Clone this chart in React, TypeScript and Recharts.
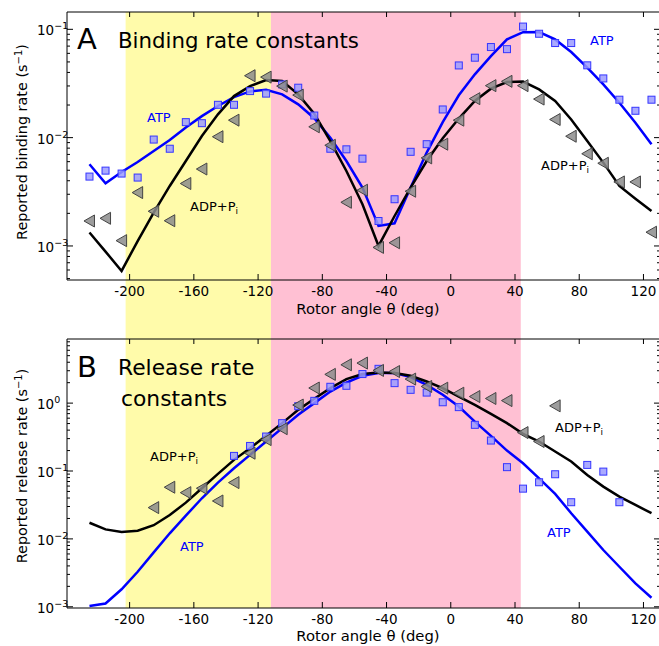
import React from "react";
import { ComposedChart, Line, Scatter, XAxis, YAxis, ReferenceArea } from "recharts";

// rotor angles (deg) where rates are reported / fitted
const angles = [
  -225, -215, -205, -195, -185, -175, -165, -155, -145, -135, -125, -115,
  -105, -95, -85, -75, -65, -55, -45, -35, -25, -15, -5, 5,
  15, 25, 35, 45, 55, 65, 75, 85, 95, 105, 115, 125,
];

// panel A: binding rate constants (s^-1)
const bindAtpPts = [
  0.00437, 0.00496, 0.00466, 0.00428, 0.0096, 0.0079, 0.0139, 0.0136, 0.0201, 0.0201, 0.0269, 0.0255,
  0.031, 0.0289, 0.016, 0.0079, 0.0078, 0.0064, 0.0017, 0.0027, 0.0074, 0.0087, 0.0182, 0.0464,
  0.0547, 0.0686, 0.0656, 0.106, 0.091, 0.0747, 0.0747, 0.0465, 0.0352, 0.0224, 0.0177, 0.0224,
];
const bindAdpPts = [
  0.0017, 0.0018, 0.00112, 0.00311, 0.00209, 0.00171, 0.00377, 0.00513, 0.0102, 0.0145, 0.0373, 0.0362,
  0.0299, 0.0247, 0.0126, 0.0085, 0.00253, 0.00327, 0.00097, 0.00107, 0.0032, 0.0065, 0.0087, 0.0145,
  0.0229, 0.0302, 0.0331, 0.0302, 0.0227, 0.0147, 0.0103, 0.0071, 0.0058, 0.0039, 0.0039, 0.00134,
];
const bindAtpFit = [
  0.00568, 0.00379, 0.00482, 0.00596, 0.00752, 0.0095, 0.0124, 0.0158, 0.0196, 0.0237, 0.0267, 0.0276,
  0.0251, 0.0203, 0.0151, 0.01, 0.00608, 0.00346, 0.00153, 0.00162, 0.00346, 0.00728, 0.0139, 0.0246,
  0.0384, 0.0566, 0.0807, 0.0942, 0.0944, 0.0807, 0.0617, 0.0443, 0.031, 0.021, 0.0137, 0.00868,
];
const bindAdpFit = [
  0.00133, 0.000887, 0.000588, 0.00111, 0.00203, 0.00358, 0.00608, 0.01035, 0.0164, 0.0242, 0.0299, 0.034,
  0.0333, 0.0251, 0.0166, 0.0093, 0.00492, 0.00243, 0.001, 0.00189, 0.00346, 0.00608, 0.00986, 0.015,
  0.0218, 0.0283, 0.0326, 0.0329, 0.0279, 0.0218, 0.0147, 0.0093, 0.00588, 0.00358, 0.00273, 0.0021,
];

// panel B: release rate constants (s^-1)
const relAtpPts = [
  null, null, null, null, null, null, null, null, null, 0.167, 0.234, 0.322,
  0.507, 0.9, 1.08, 1.74, 1.8, 2.68, 3.2, 1.97, 1.57, 1.43, 1.03, 0.873,
  0.479, 0.281, 0.114, 0.055, 0.0683, 0.0896, 0.0347, 0.123, 0.098, 0.0347, null, null,
];
const relAdpPts = [
  null, null, null, null, 0.0289, 0.0577, 0.048, 0.0557, 0.0362, 0.0675, 0.183, 0.29,
  0.42, 0.937, 1.67, 2.65, 3.67, 3.89, 3.03, 2.92, 2.26, 1.76, 1.66, 1.4,
  1.25, 1.17, 1.09, 0.368, 0.272, 0.912, null, null, null, null, null, null,
];
const relAtpFit = [
  0.00103, 0.00112, 0.00181, 0.00328, 0.00634, 0.0121, 0.022, 0.0397, 0.0675, 0.11, 0.173, 0.272,
  0.428, 0.672, 1.0, 1.48, 2.01, 2.53, 2.77, 2.77, 2.42, 1.86, 1.33, 0.891,
  0.535, 0.33, 0.2, 0.13, 0.078, 0.046, 0.0239, 0.0128, 0.00686, 0.00389, 0.00221, 0.00136,
];
const relAdpFit = [
  0.0173, 0.0138, 0.0126, 0.0132, 0.0159, 0.0225, 0.0342, 0.0557, 0.0906, 0.146, 0.217, 0.33,
  0.507, 0.796, 1.16, 1.66, 2.26, 2.68, 2.83, 2.77, 2.53, 2.08, 1.66, 1.25,
  0.944, 0.696, 0.507, 0.352, 0.272, 0.194, 0.138, 0.0876, 0.0589, 0.042, 0.0316, 0.0239,
];

const xTicks = [-200, -160, -120, -80, -40, 0, 40, 80, 120];
const yellowBand = [-202.5, -112];
const pinkBand = [-112, 43.6];

const FONT = "DejaVu Sans, Verdana, sans-serif";
const X_DOMAIN: [number, number] = [-239, 130.3];

// log ticks: 1..9 x 10^k inside [lo, hi]
function logTicks(lo: number, hi: number) {
  const out: number[] = [];
  for (let e = -5; e <= 2; e++) {
    for (let m = 1; m <= 9; m++) {
      const v = m * Math.pow(10, e);
      if (v >= lo * 0.999 && v <= hi * 1.001) out.push(Number(v.toPrecision(3)));
    }
  }
  return out;
}

const isMajor = (v: number) => Math.abs(Math.log10(v) - Math.round(Math.log10(v))) < 1e-6;

const LeftTick = (props: any) => {
  const { x, y, payload } = props;
  const v = payload.value;
  const major = isMajor(v);
  const e = Math.round(Math.log10(v));
  return (
    <g>
      <line x1={x} x2={x + (major ? 6 : 3)} y1={y} y2={y} stroke="#000" strokeWidth={1} />
      {major && (
        <text x={x - 30} y={y + 6} textAnchor="start" fontSize={13.5} fontFamily={FONT} fill="#000">
          10
          <tspan dy={-6} fontSize={9.5}>{e < 0 ? `−${-e}` : `${e}`}</tspan>
        </text>
      )}
    </g>
  );
};

const RightTick = (props: any) => {
  const { x, y, payload } = props;
  const major = isMajor(payload.value);
  return <line x1={x} x2={x - (major ? 6 : 3)} y1={y} y2={y} stroke="#000" strokeWidth={1} />;
};

const BottomTick = (props: any) => {
  const { x, y, payload } = props;
  return (
    <g>
      <line x1={x} x2={x} y1={y} y2={y - 6} stroke="#000" strokeWidth={1} />
      <text x={x} y={y + 16} textAnchor="middle" fontSize={13.5} fontFamily={FONT} fill="#000">
        {payload.value}
      </text>
    </g>
  );
};

const TopTick = (props: any) => {
  const { x, y } = props;
  return <line x1={x} x2={x} y1={y} y2={y + 5} stroke="#000" strokeWidth={1} />;
};

const Square = (props: any) => {
  const { cx, cy } = props;
  if (cx == null || cy == null || isNaN(cy)) return null;
  return (
    <rect x={cx - 3.5} y={cy - 3.5} width={7} height={7} fill="#9b9bff" fillOpacity={0.85} stroke="#3535ff" strokeWidth={1} />
  );
};

const LeftTri = (props: any) => {
  const { cx, cy } = props;
  if (cx == null || cy == null || isNaN(cy)) return null;
  const pts = `${cx - 5.5},${cy} ${cx + 5},${cy - 6} ${cx + 5},${cy + 6}`;
  return <polygon points={pts} fill="#8c8c8c" fillOpacity={0.85} stroke="#444" strokeWidth={1} />;
};

function pts(vals: (number | null)[]) {
  return angles
    .map((a, i) => ({ angle: a, v: vals[i] }))
    .filter((d) => d.v != null);
}

type PanelProps = {
  height: number;
  marginTop: number;
  bottomAxisHeight: number;
  yDomain: [number, number];
  bandTop: number;
  bandBottom: number;
  atpPts: (number | null)[];
  adpPts: (number | null)[];
  atpFit: number[];
  adpFit: number[];
};

function Panel(p: PanelProps) {
  const rows = angles.map((a, i) => ({ angle: a, atpFit: p.atpFit[i], adpFit: p.adpFit[i] }));
  const yTicks = logTicks(p.yDomain[0], p.yDomain[1]);
  return (
    <ComposedChart
      width={665}
      height={p.height}
      data={rows}
      margin={{ top: p.marginTop, right: 0, bottom: 0, left: 0 }}
    >
      <ReferenceArea
        x1={yellowBand[0]}
        x2={yellowBand[1]}
        y1={p.bandTop}
        y2={p.bandBottom}
        fill="#fffbaa"
        fillOpacity={1}
        stroke="none"
        ifOverflow="visible"
      />
      <ReferenceArea
        x1={pinkBand[0]}
        x2={pinkBand[1]}
        y1={p.bandTop}
        y2={p.bandBottom}
        fill="#ffc0d3"
        fillOpacity={1}
        stroke="none"
        ifOverflow="visible"
      />
      <XAxis
        dataKey="angle"
        type="number"
        domain={X_DOMAIN}
        allowDataOverflow
        ticks={xTicks}
        interval={0}
        height={p.bottomAxisHeight}
        tickSize={0}
        tickMargin={0}
        tickLine={false}
        axisLine={{ stroke: "#000" }}
        tick={BottomTick}
      />
      <XAxis
        xAxisId="top"
        orientation="top"
        dataKey="angle"
        type="number"
        domain={X_DOMAIN}
        allowDataOverflow
        ticks={xTicks}
        interval={0}
        height={10}
        tickSize={0}
        tickMargin={0}
        tickLine={false}
        axisLine={{ stroke: "#000" }}
        tick={TopTick}
      />
      <YAxis
        type="number"
        scale="log"
        domain={p.yDomain}
        allowDataOverflow
        ticks={yTicks}
        interval={0}
        width={67}
        tickSize={0}
        tickMargin={0}
        tickLine={false}
        axisLine={{ stroke: "#000" }}
        tick={LeftTick}
      />
      <YAxis
        yAxisId="right"
        orientation="right"
        type="number"
        scale="log"
        domain={p.yDomain}
        allowDataOverflow
        ticks={yTicks}
        interval={0}
        width={5}
        tickSize={0}
        tickMargin={0}
        tickLine={false}
        axisLine={{ stroke: "#000" }}
        tick={RightTick}
      />
      <Scatter data={pts(p.atpPts)} dataKey="v" shape={Square} isAnimationActive={false} />
      <Scatter data={pts(p.adpPts)} dataKey="v" shape={LeftTri} isAnimationActive={false} />
      <Line dataKey="atpFit" type="linear" stroke="#0000ff" strokeWidth={2.5} dot={false} isAnimationActive={false} />
      <Line dataKey="adpFit" type="linear" stroke="#000" strokeWidth={2.5} dot={false} isAnimationActive={false} />
    </ComposedChart>
  );
}

const AdpLabel = ({ x, y }: { x: number; y: number }) => (
  <text x={x} y={y} fontSize={13} fontFamily={FONT} fill="#000">
    ADP+P<tspan dy={3} fontSize={9}>i</tspan>
  </text>
);

const AtpLabel = ({ x, y }: { x: number; y: number }) => (
  <text x={x} y={y} fontSize={13} fontFamily={FONT} fill="#0000ff">
    ATP
  </text>
);

export default function App() {
  return (
    <div style={{ position: "relative", width: 659, height: 646, overflow: "hidden", background: "#fff" }}>
      <style>{"body{margin:0}"}</style>
      <div style={{ position: "absolute", left: 0, top: 0 }}>
        <Panel
          height={325}
          marginTop={2}
          bottomAxisHeight={45}
          yDomain={[0.000485, 0.1445]}
          bandTop={0.1445}
          bandBottom={0.00001}
          atpPts={bindAtpPts}
          adpPts={bindAdpPts}
          atpFit={bindAtpFit}
          adpFit={bindAdpFit}
        />
      </div>
      <div style={{ position: "absolute", left: 0, top: 325 }}>
        <Panel
          height={321}
          marginTop={4}
          bottomAxisHeight={38}
          yDomain={[0.00096, 8.8]}
          bandTop={1000}
          bandBottom={0.00096}
          atpPts={relAtpPts}
          adpPts={relAdpPts}
          atpFit={relAtpFit}
          adpFit={relAdpFit}
        />
      </div>
      <svg
        width={659}
        height={646}
        style={{ position: "absolute", left: 0, top: 0, pointerEvents: "none" }}
      >
        <g fontFamily={FONT} fill="#000">
          <text x={77} y={49} fontSize={29}>A</text>
          <text x={118} y={48} fontSize={21.3}>Binding rate constants</text>
          <text x={77} y={377} fontSize={29}>B</text>
          <text x={118} y={375} fontSize={21.8}>Release rate</text>
          <text x={121} y={406} fontSize={21.8}>constants</text>

          <text x={27} y={142} fontSize={14.4} textAnchor="middle" transform="rotate(-90 27 142)">
            Reported binding rate (s<tspan dy={-5} fontSize={10}>−1</tspan><tspan dy={5}>)</tspan>
          </text>
          <text x={27} y={466} fontSize={14.4} textAnchor="middle" transform="rotate(-90 27 466)">
            Reported release rate (s<tspan dy={-5} fontSize={10}>−1</tspan><tspan dy={5}>)</tspan>
          </text>
          <text x={368} y={314} fontSize={14.8} textAnchor="middle">Rotor angle θ (deg)</text>
          <text x={368} y={641} fontSize={14.8} textAnchor="middle">Rotor angle θ (deg)</text>
        </g>
        <AtpLabel x={147} y={122} />
        <AdpLabel x={190} y={211} />
        <AtpLabel x={590} y={45} />
        <AdpLabel x={541} y={170} />
        <AdpLabel x={150} y={461} />
        <AtpLabel x={180} y={551} />
        <AdpLabel x={555} y={432} />
        <AtpLabel x={547} y={537} />
      </svg>
    </div>
  );
}
